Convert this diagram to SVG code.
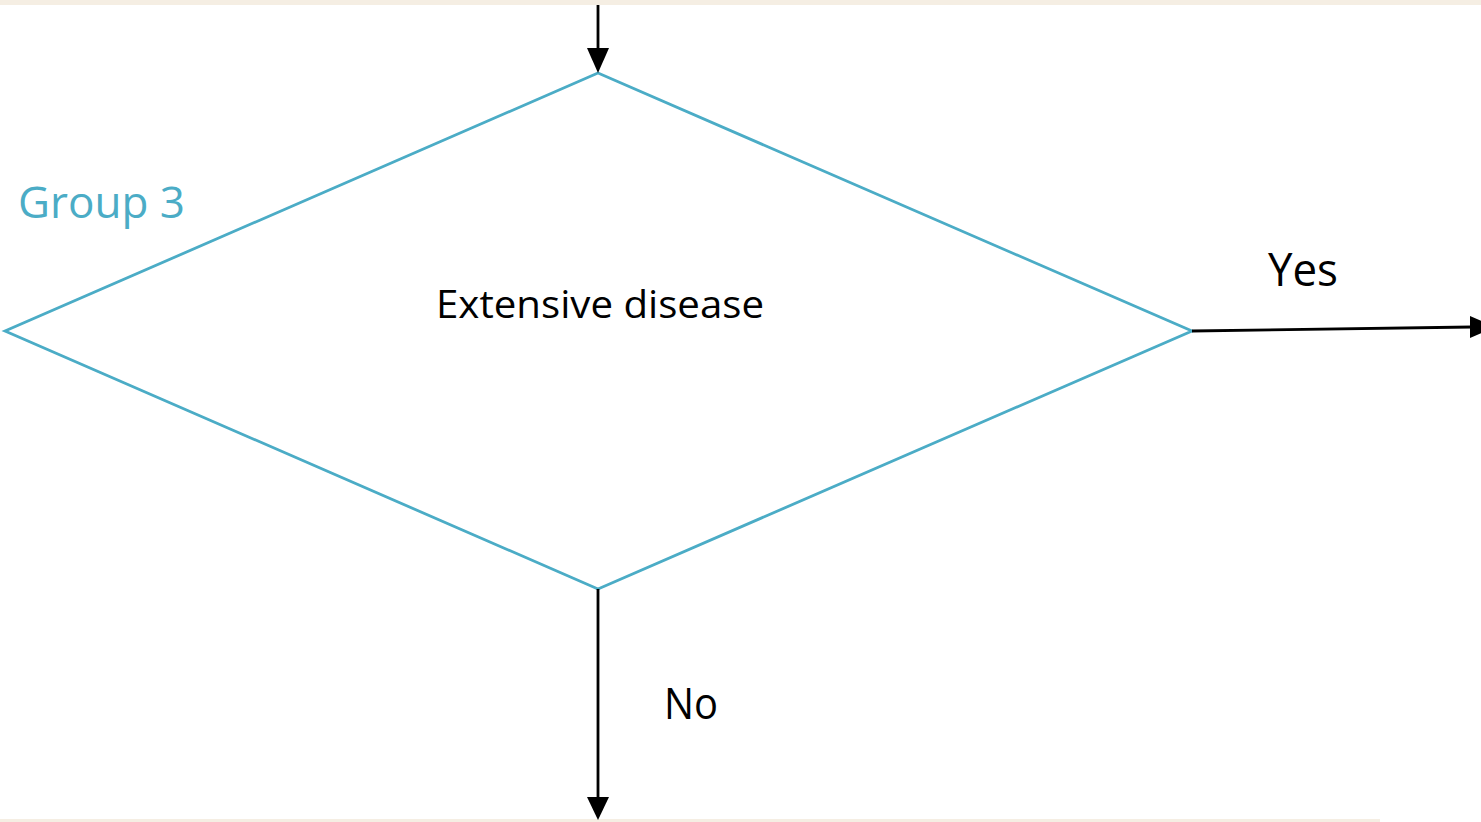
<svg xmlns="http://www.w3.org/2000/svg" width="1481" height="822" viewBox="0 0 1481 822">
<defs>
<style>
.conn{stroke:#000;stroke-width:2.8;fill:none}
.shape{fill:#fff;stroke:#4bacc6;stroke-width:2.8}
.lbl{font-family:"Open Sans","Noto Sans",sans-serif;fill:#000}
.head{fill:#000}
</style>
</defs>
<rect width="1481" height="822" fill="#fff"/>
<rect x="0" y="0" width="1481" height="5" fill="#f5eee3"/>
<rect x="0" y="819" width="1380" height="3" fill="#f5eee3"/>
<g id="node-decision">
<polygon class="shape" points="598,73 1192,331 598,589 5,331"/>
<text class="lbl" x="600" y="318" font-size="38" text-anchor="middle" textLength="328" lengthAdjust="spacingAndGlyphs">Extensive disease</text>
</g>
<g id="label-group3">
<text x="18" y="218" font-family="Open Sans, Noto Sans, sans-serif" font-size="43" fill="#4bacc6" textLength="167" lengthAdjust="spacingAndGlyphs">Group 3</text>
</g>
<g id="connectors">
<line class="conn" x1="598" y1="5" x2="598" y2="50"/>
<path class="head" d="M587,48 L609,48 L598,73 Z"/>
<line class="conn" x1="1192" y1="331" x2="1472" y2="327"/>
<path class="head" d="M1470,316 L1495,327 L1470,338 Z"/>
<line class="conn" x1="598" y1="589" x2="598" y2="800"/>
<path class="head" d="M587,797 L609,797 L598,820 Z"/>
<text class="lbl" x="1268" y="286" font-size="45" textLength="70" lengthAdjust="spacingAndGlyphs">Yes</text>
<text class="lbl" x="664" y="719" font-size="44" textLength="54" lengthAdjust="spacingAndGlyphs">No</text>
</g>
</svg>
